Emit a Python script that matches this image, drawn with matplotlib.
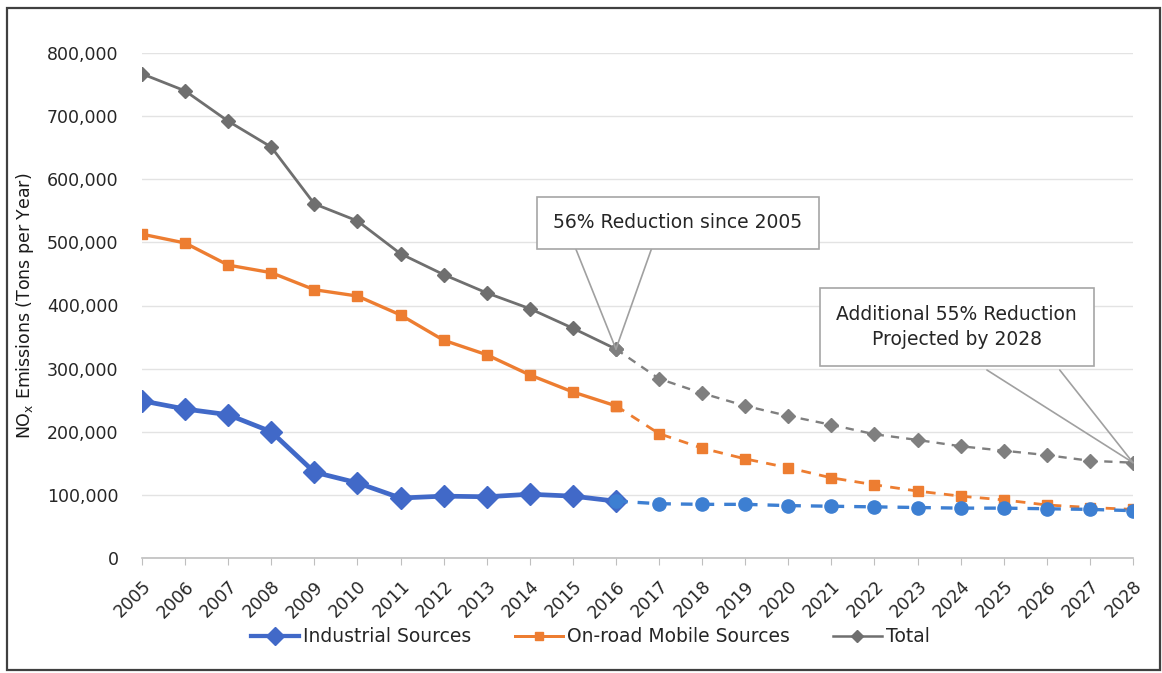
import matplotlib
matplotlib.use("Agg")
import matplotlib.pyplot as plt
from matplotlib.patches import Rectangle
from matplotlib.lines import Line2D
from matplotlib.ticker import FuncFormatter, MultipleLocator

plt.rcParams['font.family'] = ['DejaVu Sans']
plt.rcParams['mathtext.default'] = 'regular'

years = list(range(2005, 2029))
industrial = [249000, 236000, 227000, 200000, 136000, 119000, 95000, 98000, 97000, 101000, 98000, 90000,
              86000, 85000, 85000, 83000, 82000, 81000, 80000, 79000, 79000, 78000, 77000, 75000]
onroad = [513000, 499000, 464000, 452000, 425000, 415000, 385000, 345000, 322000, 290000, 263000, 241000,
          197000, 174000, 157000, 143000, 127000, 116000, 106000, 98000, 92000, 84000, 80000, 77000]
total = [767000, 740000, 692000, 651000, 561000, 534000, 482000, 449000, 420000, 395000, 364000, 331000,
         284000, 261000, 241000, 225000, 211000, 196000, 187000, 177000, 170000, 163000, 154000, 151000]
last_hist_year = 2016
series_names = ["Industrial Sources", "On-road Mobile Sources", "Total"]
note1 = "56% Reduction since 2005"
note2 = "Additional 55% Reduction\nProjected by 2028"

W, H = 1162, 673
fig = plt.figure(figsize=(W / 100, H / 100), dpi=100)
ax = fig.add_axes([142 / W, 1 - 558 / H, 991 / W, 505 / H])

k = years.index(last_hist_year)
hy, py = years[:k + 1], years[k:]

styles = [
    dict(data=industrial, c='#4169C8', cp='#3D7FD2', m='D', mp='o', ms=11, msp=9.5, lw=3.4, lwp=2.4, z=5),
    dict(data=onroad, c='#ED7D31', cp='#ED7D31', m='s', mp='s', ms=7.5, msp=7.5, lw=2.4, lwp=2.0, z=4),
    dict(data=total, c='#6F6F6F', cp='#7F7F7F', m='D', mp='D', ms=7.5, msp=7.5, lw=2.0, lwp=1.7, z=3),
]
for s in styles:
    d = s['data']
    ax.plot(hy, d[:k + 1], color=s['c'], marker=s['m'], ms=s['ms'], lw=s['lw'],
            mec=s['c'], mfc=s['c'], zorder=s['z'])
    ax.plot(py, d[k:], color=s['cp'], marker=s['mp'], ms=s['msp'], lw=s['lwp'],
            ls=(0, (3.5, 3)), mec=s['cp'], mfc=s['cp'], zorder=s['z'])

ax.set_xlim(2005, 2028)
ax.set_ylim(0, 800000)
ax.yaxis.set_major_locator(MultipleLocator(100000))
ax.yaxis.set_major_formatter(FuncFormatter(lambda v, p: f"{int(v):,}"))
ax.set_xticks(years)
ax.set_xticklabels([str(y) for y in years], rotation=45, ha='right', rotation_mode='anchor',
                   fontsize=12.5, color='#262626')
ax.tick_params(axis='y', length=0, labelsize=12.5, labelcolor='#262626', pad=17)
ax.tick_params(axis='x', length=5, color='#BFBFBF', pad=9)
ax.grid(axis='y', color='#E3E3E3', lw=1)
ax.set_axisbelow(True)
for sp in ['top', 'right', 'left']:
    ax.spines[sp].set_visible(False)
ax.spines['bottom'].set_color('#BFBFBF')
ax.spines['bottom'].set_linewidth(1.2)

ax.set_ylabel("NO$_x$ Emissions (Tons per Year)", fontsize=12.5, color='#1a1a1a', labelpad=8)

# callouts
def callout(text, box_xy, pts_base, target):
    bx, by = box_xy
    ax.annotate(text, xy=(bx, by), xycoords='data', fontsize=13.5, color='#262626',
                ha='center', va='center', zorder=10, linespacing=1.45,
                bbox=dict(boxstyle='square,pad=0.9', fc='white', ec='#A6A6A6', lw=1.2))
    for xb in pts_base:
        ax.annotate('', xy=target, xytext=xb, xycoords='data',
                    arrowprops=dict(arrowstyle='-', color='#A0A0A0', lw=1.2,
                                    shrinkA=0, shrinkB=0), zorder=9)

ti = years.index(2016)
callout(note1, (2017.44, 530700), [(2015.05, 492700), (2016.84, 492700)], (2016, total[ti]))
callout(note2, (2023.91, 365900), [(2024.61, 297800), (2026.30, 297800)], (2028, total[-1]))

handles = [Line2D([0], [0], color=s['c'], marker=s['m'], ms=s['ms'] * 0.85, lw=s['lw'] * 0.9)
           for s in styles]
fig.legend(handles, series_names, loc='center', bbox_to_anchor=(590 / W, 1 - 637 / H),
           ncol=3, frameon=False, fontsize=13.5, handlelength=2.6, handletextpad=0.2,
           columnspacing=2.3, labelcolor='#262626')

fig.patches.append(Rectangle((7 / W, 3 / H), (W - 9) / W, 1 - 11 / H,
                             transform=fig.transFigure, fill=False, ec='#404040', lw=1.6))

fig.savefig("out.png", dpi=100, facecolor='white')
